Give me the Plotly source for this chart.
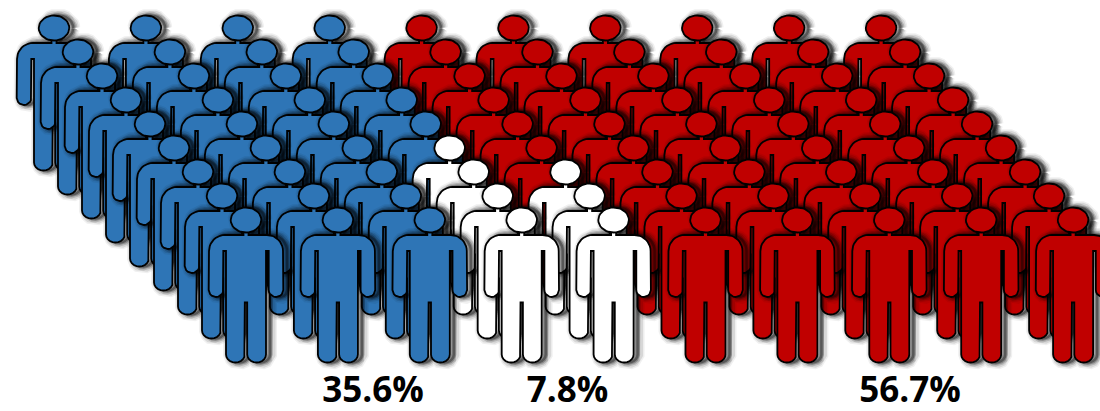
"""Pictogram: 90 people in a slanted grid, coloured by share."""
import math

import plotly.graph_objects as go

GROUP_COLORS = {"B": "#2E75B6", "W": "#FFFFFF", "R": "#C00000"}
# one string per rank of people, back to front
RANK_GROUPS = [
    "BBBBRRRRRR",
    "BBBBRRRRRR",
    "BBBBRRRRRR",
    "BBBBRRRRRR",
    "BBBBRRRRRR",
    "BBBWRRRRRR",
    "BBBWWRRRRR",
    "BBBWWRRRRR",
    "BBBWWRRRRR",
]
GROUP_LABELS = ["35.6%", "7.8%", "56.7%"]
LABEL_X = [373, 567.5, 910]
LABEL_Y = [393, 393, 393]


def arc(cx, cy, rx, ry, start, end, n=10):
    return [(cx + rx * math.cos(math.radians(start + (end - start) * i / n)),
             cy + ry * math.sin(math.radians(start + (end - start) * i / n)))
            for i in range(n + 1)]


def body_outline():
    # relative to the centre of the head, y pointing down
    half = [(2.5, 11), (2.5, 15)]
    half += arc(21, 31, 16, 16, -90, 0)
    half += [(37.3, 70)]
    half += arc(30, 70, 7.3, 7, 0, 180)
    half += [(22.7, 31), (20, 31), (20, 134.5)]
    half += arc(10.6, 134.5, 9.4, 8, 0, 180)
    half += [(1.2, 82.5)]
    mirrored = [(-x, y) for x, y in reversed(half)]
    return half + mirrored + [half[0]]


HEAD = arc(0, 0, 15.3, 12.5, 0, 360, 36)
BODY = body_outline()


def place(points, x0, y0):
    return [x0 + p[0] for p in points], [y0 + p[1] for p in points]


def person_x(col, rank):
    return 54 + 91.9 * col + 24 * rank


def person_y(rank):
    return 28 + 24 * rank


fig = go.Figure()

for rank, groups in enumerate(RANK_GROUPS):
    for col, group in enumerate(groups):
        x0, y0 = person_x(col, rank), person_y(rank)
        # soft drop shadow out of stacked wide strokes
        bx, by = place(BODY, x0 + 4, y0)
        hx, hy = place(HEAD, x0 + 4, y0)
        for width, alpha in [(14, 0.06), (11, 0.1), (8, 0.16), (5, 0.25), (2.5, 0.35)]:
            fig.add_trace(go.Scatter(
                x=bx + [None] + hx, y=by + [None] + hy, mode="lines",
                line=dict(color=f"rgba(0,0,0,{alpha})", width=width),
                hoverinfo="skip", showlegend=False,
            ))
        for shape in (BODY, HEAD):
            sx, sy = place(shape, x0, y0)
            fig.add_trace(go.Scatter(
                x=sx, y=sy, mode="lines", fill="toself",
                fillcolor=GROUP_COLORS[group],
                line=dict(color="#000000", width=1.8),
                hoverinfo="skip", showlegend=False,
            ))

fig.add_trace(go.Scatter(
    x=LABEL_X, y=LABEL_Y, mode="text", text=GROUP_LABELS,
    textposition="middle center", cliponaxis=False,
    textfont=dict(family="Open Sans", size=35, color="#000000", weight="bold"),
    hoverinfo="skip", showlegend=False,
))

fig.update_layout(
    width=1100, height=411, margin=dict(l=0, r=0, t=0, b=0),
    paper_bgcolor="white", plot_bgcolor="white",
    xaxis=dict(range=[0, 1100], visible=False),
    yaxis=dict(range=[411, 0], visible=False),
)
fig.write_html("out.html", config={"displayModeBar": False},
               post_script="document.body.style.margin='0';document.body.style.overflow='hidden';")
